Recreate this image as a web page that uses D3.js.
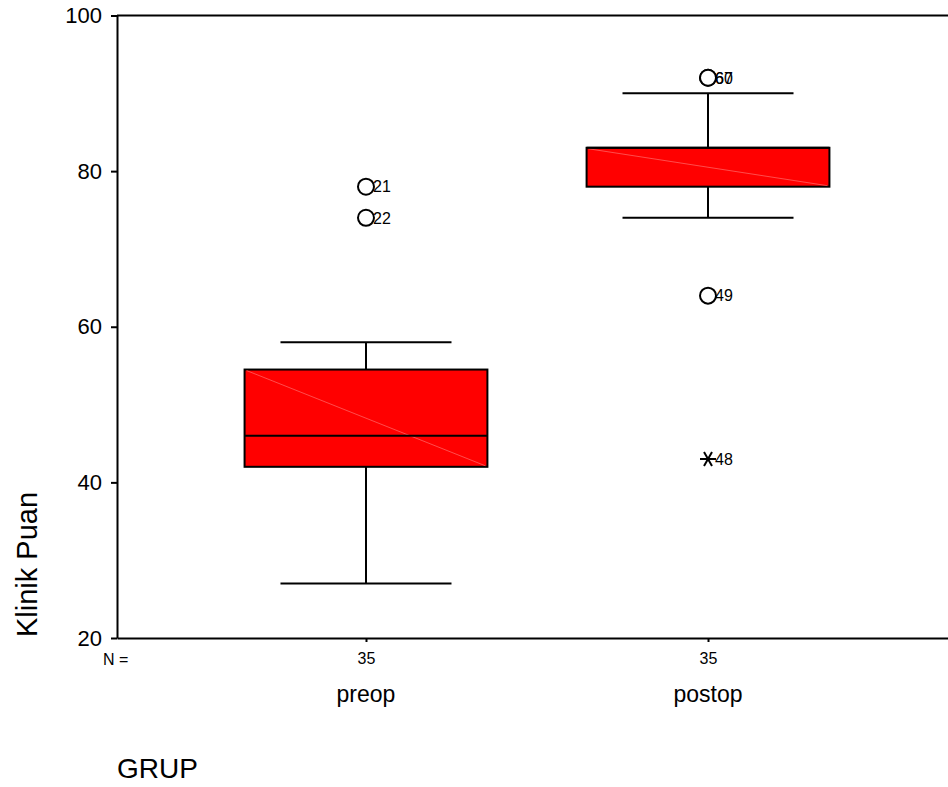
<!DOCTYPE html>
<html>
<head>
	<title>Klinik Puan boxplot</title>
	<script src="https://d3js.org/d3.v7.min.js"></script>
	<style type="text/css">
		*
		{
			margin:0;
			padding:0;
		}
		body
		{
			background:#fff;
			font-family: "Liberation Sans", Arial, sans-serif;
			overflow:hidden;
		}
		.axis path,
		.axis line
		{
			stroke:#000;
			stroke-width:2;
		}
		.axis text
		{
			fill:#000;
			font-family: "Liberation Sans", Arial, sans-serif;
		}
	</style>
</head>
<body>
	<div id="chart"></div>
	<script>
		// values
		const groups = ["preop", "postop"];
		const nCounts = [35, 35];
		const whiskerLow = [27, 74];
		const q1 = [42, 78];
		const median = [46, 83];
		const q3 = [54.5, 83];
		const whiskerHigh = [58, 90];

		const outlierGroup = ["preop", "preop", "postop", "postop", "postop"];
		const outlierValue = [78, 74, 92, 92, 64];
		const outlierCase = ["21", "22", "60", "67", "49"];

		const extremeGroup = ["postop"];
		const extremeValue = [43];
		const extremeCase = ["48"];

		const yTicks = [20, 40, 60, 80, 100];

		const width = 948;
		const height = 787;

		const svg = d3.select("#chart").append("svg")
			.attr("width", width)
			.attr("height", height);

		const yScale = d3.scaleLinear().domain([20, 100]).range([638, 15.5]);
		const xScale = d3.scalePoint().domain(groups).range([117, 957]).padding(0.728);
		const step = xScale.step();
		const boxW = step * 0.71;
		const capW = step * 0.5;

		// frame top / right
		svg.append("path")
			.attr("d", "M" + xScale.range()[0] + "," + yScale(100) + "H" + xScale.range()[1] + "V" + yScale(20))
			.attr("fill", "none")
			.attr("stroke", "#000")
			.attr("stroke-width", 2);

		const yAxis = d3.axisLeft(yScale).tickValues(yTicks).tickSize(6).tickSizeOuter(0).tickPadding(9);
		svg.append("g")
			.attr("class", "axis")
			.attr("transform", "translate(117,0)")
			.call(yAxis)
			.selectAll("text").style("font-size", "22px");

		const xAxis = d3.axisBottom(xScale).tickSize(4).tickSizeOuter(0).tickPadding(11)
			.tickFormat((d, i) => nCounts[i]);
		svg.append("g")
			.attr("class", "axis")
			.attr("transform", "translate(0,638)")
			.call(xAxis)
			.selectAll("text").style("font-size", "16px");

		svg.append("text")
			.attr("x", 103).attr("y", 665)
			.style("font-size", "16px")
			.text("N =");

		svg.selectAll(".cat")
			.data(groups)
			.enter()
			.append("text")
			.attr("class", "cat")
			.attr("x", d => xScale(d))
			.attr("y", 702)
			.attr("text-anchor", "middle")
			.style("font-size", "23px")
			.text(d => d);

		svg.append("text")
			.attr("transform", "translate(37,637) rotate(-90)")
			.style("font-size", "29px")
			.text("Klinik Puan");

		svg.append("text")
			.attr("x", 117).attr("y", 778)
			.style("font-size", "28px")
			.text("GRUP");

		// whiskers
		const box = svg.selectAll(".box")
			.data(groups)
			.enter()
			.append("g")
			.attr("class", "box");

		box.append("line")
			.attr("x1", d => xScale(d)).attr("x2", d => xScale(d))
			.attr("y1", (d, i) => yScale(whiskerHigh[i]))
			.attr("y2", (d, i) => yScale(whiskerLow[i]))
			.attr("stroke", "#000").attr("stroke-width", 2);

		box.append("line")
			.attr("x1", d => xScale(d) - capW / 2).attr("x2", d => xScale(d) + capW / 2)
			.attr("y1", (d, i) => yScale(whiskerHigh[i]))
			.attr("y2", (d, i) => yScale(whiskerHigh[i]))
			.attr("stroke", "#000").attr("stroke-width", 2);

		box.append("line")
			.attr("x1", d => xScale(d) - capW / 2).attr("x2", d => xScale(d) + capW / 2)
			.attr("y1", (d, i) => yScale(whiskerLow[i]))
			.attr("y2", (d, i) => yScale(whiskerLow[i]))
			.attr("stroke", "#000").attr("stroke-width", 2);

		box.append("rect")
			.attr("x", d => xScale(d) - boxW / 2)
			.attr("y", (d, i) => yScale(q3[i]))
			.attr("width", boxW)
			.attr("height", (d, i) => yScale(q1[i]) - yScale(q3[i]))
			.attr("fill", "#ff0000")
			.attr("stroke", "#000")
			.attr("stroke-width", 2);

		// faint diagonal in the box
		box.append("line")
			.attr("x1", d => xScale(d) - boxW / 2 + 2).attr("x2", d => xScale(d) + boxW / 2 - 2)
			.attr("y1", (d, i) => yScale(q3[i]) + 1)
			.attr("y2", (d, i) => yScale(q1[i]) - 1)
			.attr("stroke", "#ff8080").attr("stroke-width", 0.6);

		box.append("line")
			.attr("x1", d => xScale(d) - boxW / 2).attr("x2", d => xScale(d) + boxW / 2)
			.attr("y1", (d, i) => yScale(median[i]))
			.attr("y2", (d, i) => yScale(median[i]))
			.attr("stroke", "#000").attr("stroke-width", 2);

		// outliers
		svg.selectAll(".outlier")
			.data(outlierValue)
			.enter()
			.append("circle")
			.attr("class", "outlier")
			.attr("cx", (d, i) => xScale(outlierGroup[i]))
			.attr("cy", d => yScale(d))
			.attr("r", 8)
			.attr("fill", "#fff")
			.attr("stroke", "#000")
			.attr("stroke-width", 2);

		svg.selectAll(".outlier-label")
			.data(outlierValue)
			.enter()
			.append("text")
			.attr("class", "outlier-label")
			.attr("x", (d, i) => xScale(outlierGroup[i]) + 7)
			.attr("y", d => yScale(d))
			.attr("dy", "0.36em")
			.style("font-size", "16px")
			.text((d, i) => outlierCase[i]);

		// extremes
		const star = d3.symbol().type(d3.symbolAsterisk).size(180);
		svg.selectAll(".extreme")
			.data(extremeValue)
			.enter()
			.append("path")
			.attr("class", "extreme")
			.attr("d", star)
			.attr("transform", (d, i) => "translate(" + xScale(extremeGroup[i]) + "," + yScale(d) + ") rotate(90)")
			.attr("fill", "none")
			.attr("stroke", "#000")
			.attr("stroke-width", 2);

		svg.selectAll(".extreme-label")
			.data(extremeValue)
			.enter()
			.append("text")
			.attr("class", "extreme-label")
			.attr("x", (d, i) => xScale(extremeGroup[i]) + 7)
			.attr("y", d => yScale(d))
			.attr("dy", "0.36em")
			.style("font-size", "16px")
			.text((d, i) => extremeCase[i]);
	</script>
</body>
</html>
